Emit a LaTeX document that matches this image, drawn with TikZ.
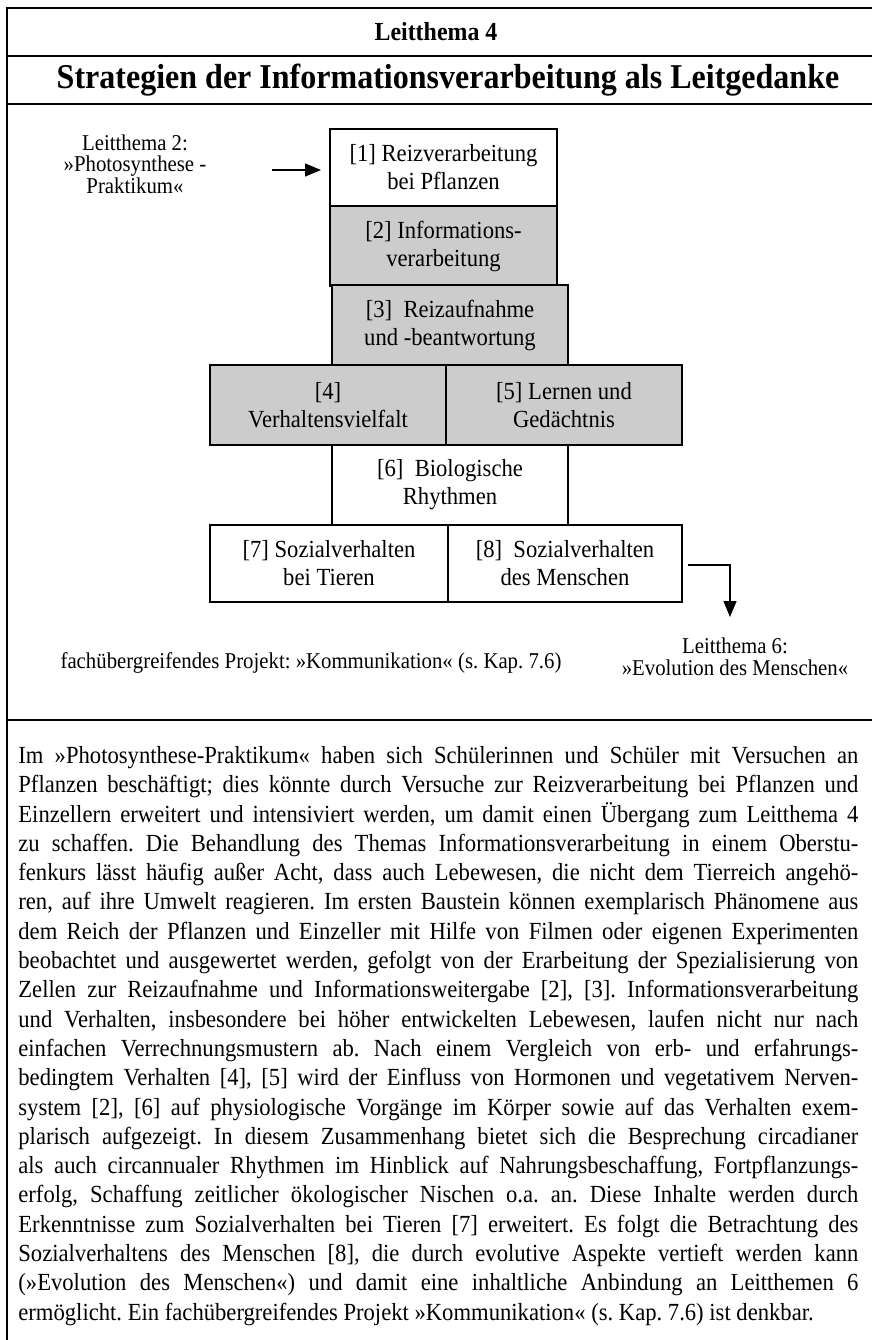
\documentclass[tikz,border=0pt]{standalone}
\usepackage{fontspec}
\setmainfont[FakeStretch=0.92]{Liberation Serif}
\usetikzlibrary{arrows.meta}
\newcommand{\bodyfs}{\fontsize{12.3pt}{14.65pt}\selectfont}
\frenchspacing
\begin{document}
\begin{tikzpicture}[x=0.5pt,y=-0.5pt,
  frame/.style={line width=1.4pt},
  stage/.style={draw, line width=1pt, inner sep=0pt, align=center, font=\fontsize{12.3pt}{14pt}\selectfont},
  greystage/.style={stage, fill=black!20},
  lbl/.style={align=center, inner sep=0pt, font=\fontsize{11.3pt}{10.8pt}\selectfont},
  arr/.style={line width=0.6pt, -{Triangle[length=8pt,width=6.5pt]}}]
\useasboundingbox (0,0) rectangle (872,1340);
% frame
\draw[frame] (872,8) -| (7,1340);
\draw[frame] (7,56) -- (872,56);
\draw[frame] (7,104) -- (872,104);
\draw[frame] (7,720) -- (872,720);
% headings
\node[font=\bfseries\fontsize{13pt}{15pt}\selectfont] (lt4) at (436,32) {Leitthema 4};
\node[font=\bfseries\fontsize{17.4pt}{20pt}\selectfont] (title) at (448,80) {Strategien der Informationsverarbeitung als Leitgedanke};
% boxes
\node[stage, minimum width=113.5pt, minimum height=38.5pt] (b1) at (443.5,167) {[1] Reizverarbeitung\\bei Pflanzen};
\node[greystage, minimum width=113.5pt, minimum height=40pt] (b2) at (443.5,246) {[2] Informations-\\verarbeitung};
\node[greystage, minimum width=118pt, minimum height=40pt] (b3) at (450,325) {[3]~~Reizaufnahme\\und -beantwortung};
\node[greystage, minimum width=118pt, minimum height=40pt] (b4) at (328,405) {[4]\\Verhaltensvielfalt};
\node[greystage, minimum width=118pt, minimum height=40pt] (b5) at (564,405) {[5] Lernen und\\Gedächtnis};
\node[stage, minimum width=118pt, minimum height=40pt] (b6) at (450,485) {[6]~~Biologische\\Rhythmen};
\node[stage, minimum width=119pt, minimum height=38.5pt] (b7) at (329,563.5) {[7] Sozialverhalten\\bei Tieren};
\node[stage, minimum width=117pt, minimum height=38.5pt] (b8) at (565,563.5) {[8]~~Sozialverhalten\\des Menschen};
% side labels
\node[lbl] (l2) at (135,164) {Leitthema 2:\\»Photosynthese -\\Praktikum«};
\coordinate (a2) at (272,170);
\draw[arr, shorten >=4pt] (a2) -- (a2 -| b1.west);
\coordinate (c6) at (730,565);
\coordinate (t6) at (730,617);
\draw[arr, shorten <=2.5pt] (b8.east |- c6) -- (c6) -- (t6);
\node[lbl] (l6) at (735,657) {Leitthema 6:\\»Evolution des Menschen«};
\node[lbl] (proj) at (311,663) {fachübergreifendes Projekt: »Kommunikation« (s. Kap. 7.6)};
% body text
\node[anchor=north west, inner sep=0pt, text width=420pt, align=justify, font=\bodyfs] (body) at (18,746) {\tolerance=10000\hyphenpenalty=10000\emergencystretch=5pt
Im »Photosynthese-Praktikum« haben sich Schülerinnen und Schüler mit Versuchen an\linebreak
Pflanzen beschäftigt; dies könnte durch Versuche zur Reizverarbeitung bei Pflanzen und\linebreak
Einzellern erweitert und intensiviert werden, um damit einen Übergang zum Leitthema 4\linebreak
zu schaffen. Die Behandlung des Themas Informationsverarbeitung in einem Oberstu-\linebreak
fenkurs lässt häufig außer Acht, dass auch Lebewesen, die nicht dem Tierreich angehö-\linebreak
ren, auf ihre Umwelt reagieren. Im ersten Baustein können exemplarisch Phänomene aus\linebreak
dem Reich der Pflanzen und Einzeller mit Hilfe von Filmen oder eigenen Experimenten\linebreak
beobachtet und ausgewertet werden, gefolgt von der Erarbeitung der Spezialisierung von\linebreak
Zellen zur Reizaufnahme und Informationsweitergabe [2], [3]. Informationsverarbeitung\linebreak
und Verhalten, insbesondere bei höher entwickelten Lebewesen, laufen nicht nur nach\linebreak
einfachen Verrechnungsmustern ab. Nach einem Vergleich von erb- und erfahrungs-\linebreak
bedingtem Verhalten [4], [5] wird der Einfluss von Hormonen und vegetativem Nerven-\linebreak
system [2], [6] auf physiologische Vorgänge im Körper sowie auf das Verhalten exem-\linebreak
plarisch aufgezeigt. In diesem Zusammenhang bietet sich die Besprechung circadianer\linebreak
als auch circannualer Rhythmen im Hinblick auf Nahrungsbeschaffung, Fortpflanzungs-\linebreak
erfolg, Schaffung zeitlicher ökologischer Nischen o.a. an. Diese Inhalte werden durch\linebreak
Erkenntnisse zum Sozialverhalten bei Tieren [7] erweitert. Es folgt die Betrachtung des\linebreak
Sozialverhaltens des Menschen [8], die durch evolutive Aspekte vertieft werden kann\linebreak
(»Evolution des Menschen«) und damit eine inhaltliche Anbindung an Leitthemen 6\linebreak
ermöglicht. Ein fachübergreifendes Projekt »Kommunikation« (s. Kap. 7.6) ist denkbar.};
\end{tikzpicture}
\end{document}
